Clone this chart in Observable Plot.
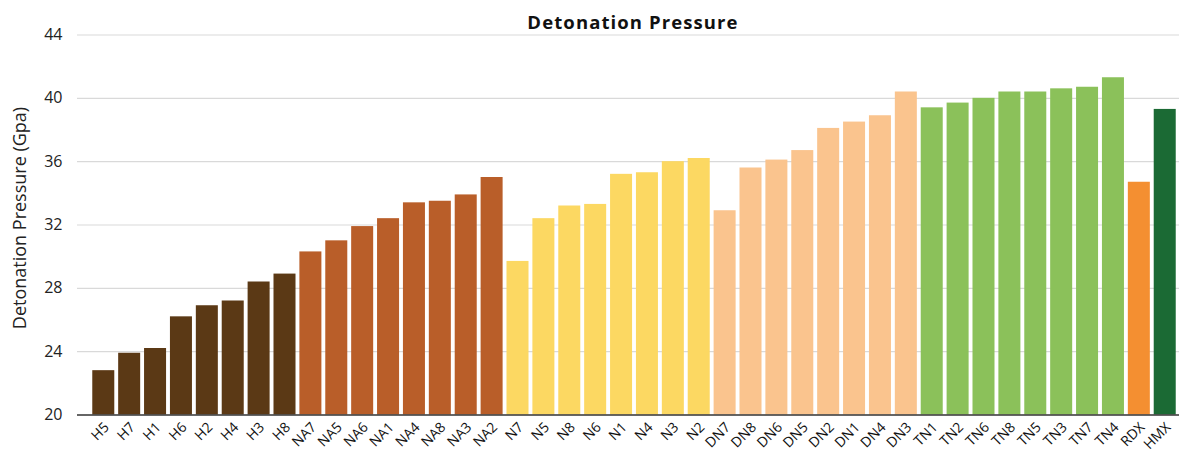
<!DOCTYPE html>
<html>
<head>
<meta charset="utf-8">
<script src="https://cdn.jsdelivr.net/npm/d3@7"></script>
<script src="https://cdn.jsdelivr.net/npm/@observablehq/plot@0.6"></script>
<style>
  html, body { margin: 0; padding: 0; background: #fff; }
  #wrap { position: relative; width: 1179px; height: 452px; overflow: hidden; }
  #title { position: absolute; top: 9px; left: 633px; transform: translateX(-50%);
    font-family: "Open Sans", sans-serif; font-weight: bold; font-size: 18.5px; letter-spacing: 1.1px; color: #111; white-space: nowrap; line-height: 26px; }
  svg { display: block; }
</style>
</head>
<body>
<div id="wrap"><div id="title">Detonation Pressure</div></div>
<script>
const names = ["H5","H7","H1","H6","H2","H4","H3","H8",
  "NA7","NA5","NA6","NA1","NA4","NA8","NA3","NA2",
  "N7","N5","N8","N6","N1","N4","N3","N2",
  "DN7","DN8","DN6","DN5","DN2","DN1","DN4","DN3",
  "TN1","TN2","TN6","TN8","TN5","TN3","TN7","TN4",
  "RDX","HMX"];
const values = [22.8,23.9,24.2,26.2,26.9,27.2,28.4,28.9,
  30.3,31.0,31.9,32.4,33.4,33.5,33.9,35.0,
  29.7,32.4,33.2,33.3,35.2,35.3,36.0,36.2,
  32.9,35.6,36.1,36.7,38.1,38.5,38.9,40.4,
  39.4,39.7,40.0,40.4,40.4,40.6,40.7,41.3,
  34.7,39.3];
const groups = ["H","H","H","H","H","H","H","H",
  "NA","NA","NA","NA","NA","NA","NA","NA",
  "N","N","N","N","N","N","N","N",
  "DN","DN","DN","DN","DN","DN","DN","DN",
  "TN","TN","TN","TN","TN","TN","TN","TN",
  "RDX","HMX"];
const groupNames = ["H","NA","N","DN","TN","RDX","HMX"];
const groupColors = ["#5b3915","#b95e29","#fcd862","#fac48e","#8bc15a","#f48f31","#1b6a34"];
const yTicks = [20,24,28,32,36,40,44];
const yLabel = "Detonation Pressure (Gpa)";

const data = names.map((n, i) => ({name: n, value: values[i], group: groups[i]}));

const chart = Plot.plot({
  width: 1179,
  height: 452,
  marginLeft: 77,
  marginRight: 0,
  marginTop: 34.5,
  marginBottom: 37.5,
  style: {fontFamily: "Open Sans, sans-serif", color: "#333", background: "transparent"},
  x: {domain: names, range: [77, 1191], paddingInner: 0.15, paddingOuter: 0.59, label: null, axis: null},
  y: {domain: [20, 44], label: null},
  color: {domain: groupNames, range: groupColors},
  marks: [
    Plot.ruleY(yTicks.slice(1), {stroke: "#d9d9d9", strokeWidth: 1.2}),
    Plot.barY(data, {x: "name", y1: 20, y2: "value", fill: "group"}),
    Plot.ruleY([20], {stroke: "#333", strokeWidth: 1.5}),
    Plot.axisY({ticks: yTicks, tickSize: 0, tickPadding: 15, fontSize: 16, label: null, fill: "#222"}),
    Plot.text(names, {x: d => d, text: d => d, frameAnchor: "bottom", rotate: -45, textAnchor: "end", lineAnchor: "middle", dy: 10, dx: 3, fontSize: 14, fill: "#111"}),
    Plot.text([yLabel], {frameAnchor: "left", rotate: -90, textAnchor: "middle", dx: -57, dy: -7, fontSize: 18, fill: "#222", text: d => d})
  ]
});
document.getElementById("wrap").prepend(chart);
</script>
</body>
</html>
